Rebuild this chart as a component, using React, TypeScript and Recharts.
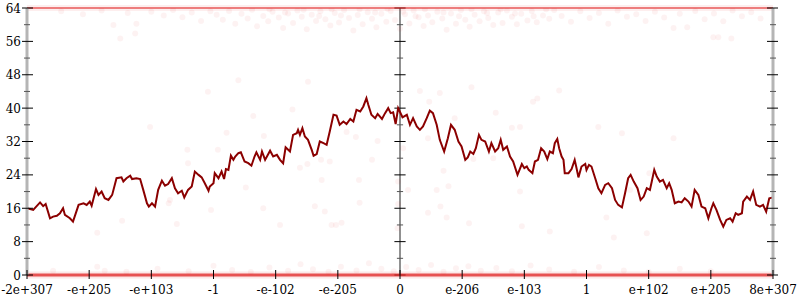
import React from "react";
import { ComposedChart, Line, Scatter, XAxis, YAxis, ReferenceLine } from "recharts";

const xLabels = ["-2e+307", "-e+205", "-e+103", "-1", "-e-102", "-e-205", "0", "e-206", "e-103", "1", "e+102", "e+205", "8e+307"];
const xTicks = xLabels.map((_, i) => i);
const yTicks = [0, 4, 8, 12, 16, 20, 24, 28, 32, 36, 40, 44, 48, 52, 56, 60, 64];

// [x (tick index), value]
const walkPoints: [number, number][] = [
  [0, 16], [0.1, 15.6], [0.21, 17.4], [0.26, 16.5], [0.3, 17], [0.37, 13.6], [0.42, 14], [0.48, 14.2], [0.53, 14.8],
  [0.58, 16], [0.61, 14.4], [0.69, 13.6], [0.74, 12.8], [0.83, 16.8], [0.91, 17.2], [0.96, 16.8], [1.01, 17.6],
  [1.04, 16.6], [1.11, 20.6], [1.15, 19.2], [1.2, 20], [1.25, 18.4], [1.31, 18], [1.37, 19.2], [1.44, 23.2],
  [1.52, 23.4], [1.55, 22.4], [1.6, 23.2], [1.66, 23.8], [1.69, 23], [1.76, 23.2], [1.82, 23], [1.87, 20.4],
  [1.93, 17.2], [1.96, 16.4], [2.01, 17.2], [2.06, 16.4], [2.11, 20.4], [2.17, 22.6], [2.22, 21.4], [2.27, 21.8],
  [2.33, 23.2], [2.38, 20.8], [2.43, 19.6], [2.49, 20.2], [2.53, 18.6], [2.59, 20.4], [2.65, 21.2], [2.7, 24.8],
  [2.76, 24], [2.81, 23.4], [2.86, 22], [2.92, 20.2], [2.94, 21.2], [3.0, 22], [3.02, 24.4], [3.08, 23.2],
  [3.13, 24.8], [3.17, 23], [3.2, 25.4], [3.24, 25.2], [3.28, 28.6], [3.32, 27.6], [3.35, 28.4], [3.4, 29.2],
  [3.44, 29.4], [3.5, 27.2], [3.56, 26.8], [3.61, 26.2], [3.66, 28.4], [3.69, 29.4], [3.75, 27.6], [3.78, 29.6],
  [3.83, 27.6], [3.91, 29.8], [3.96, 28.4], [4.02, 28.8], [4.07, 27.6], [4.12, 26.8], [4.16, 30.6], [4.23, 29.6],
  [4.28, 33.6], [4.34, 34], [4.36, 34.8], [4.39, 33.6], [4.43, 35.2], [4.47, 33.2], [4.52, 32.4], [4.58, 30],
  [4.61, 28.6], [4.66, 29], [4.71, 32], [4.77, 31.6], [4.82, 31.2], [4.87, 34.4], [4.93, 38.4], [4.98, 38.2],
  [5.03, 36], [5.09, 36.8], [5.14, 36.2], [5.2, 37.4], [5.25, 36.8], [5.3, 39.6], [5.36, 39.2], [5.41, 40.4],
  [5.46, 42.4], [5.49, 40.8], [5.54, 38.4], [5.6, 37.6], [5.64, 38.6], [5.71, 37.4], [5.76, 38.8], [5.81, 40],
  [5.85, 38.8], [5.89, 39], [5.93, 36.2], [5.97, 40], [6.04, 37.8], [6.11, 38.4], [6.16, 36], [6.21, 37.6],
  [6.27, 35.6], [6.32, 34.8], [6.37, 35.6], [6.43, 37.6], [6.48, 39.4], [6.53, 38.8], [6.59, 36], [6.64, 32.4],
  [6.71, 29.6], [6.77, 32.8], [6.82, 36], [6.88, 34.8], [6.94, 32], [6.99, 30.8], [7.05, 27.6], [7.09, 28.2],
  [7.13, 29.6], [7.18, 29], [7.22, 30.4], [7.27, 33.6], [7.31, 32.4], [7.37, 32], [7.43, 29.6], [7.47, 31.6],
  [7.53, 29.6], [7.58, 30.4], [7.62, 32.4], [7.66, 30], [7.72, 30.8], [7.77, 28.4], [7.82, 27.2], [7.89, 24],
  [7.96, 26.6], [8.0, 25.6], [8.04, 26], [8.07, 25.2], [8.13, 24.4], [8.17, 27.2], [8.22, 27.6], [8.27, 30.4],
  [8.32, 29.6], [8.37, 27.8], [8.41, 29.6], [8.46, 29.2], [8.49, 31.6], [8.53, 32.6], [8.56, 30.4], [8.6, 28.4],
  [8.63, 27.6], [8.65, 24.4], [8.71, 24.4], [8.76, 25.4], [8.81, 27.6], [8.84, 25.6], [8.87, 23.4], [8.92, 26],
  [8.98, 26.6], [9.0, 25.2], [9.04, 26.4], [9.08, 26], [9.14, 23.2], [9.19, 20.8], [9.24, 19.6], [9.3, 21.6],
  [9.35, 22], [9.41, 20.8], [9.46, 18], [9.51, 16.8], [9.57, 16.2], [9.62, 19.6], [9.67, 23.2], [9.71, 24],
  [9.76, 22.4], [9.82, 20.8], [9.87, 18], [9.92, 18.8], [9.97, 20.8], [10.02, 20.4], [10.05, 22.4], [10.09, 25.2],
  [10.13, 23.6], [10.18, 22.4], [10.23, 22.8], [10.29, 20.8], [10.33, 22], [10.37, 20.4], [10.42, 17.2],
  [10.48, 17.6], [10.53, 17.4], [10.58, 18.4], [10.64, 17.6], [10.69, 16.4], [10.74, 20.4], [10.8, 19.2],
  [10.85, 16.4], [10.91, 16], [10.96, 13.6], [11.01, 16], [11.04, 17.2], [11.09, 15.6], [11.15, 13.2], [11.2, 11.6],
  [11.25, 13.2], [11.31, 13.6], [11.35, 12.8], [11.4, 14.8], [11.44, 14.4], [11.5, 14.8], [11.52, 17.6],
  [11.58, 18.8], [11.63, 18], [11.68, 20], [11.73, 16.8], [11.79, 16.4], [11.84, 16.8], [11.89, 15.2],
  [11.94, 18.4], [12, 18.6],
];

const topDots: [number, number][] = [
  [0.55, 63.2], [0.9, 62.5], [1.2, 63.4], [1.39, 59.9], [1.5, 56.7], [1.62, 62.8], [1.74, 57.9], [1.76, 60.2],
  [2.0, 63.1], [2.2, 62.2], [2.35, 63.5], [2.5, 61.8], [2.65, 62.9], [2.8, 60.9], [2.95, 63.2],
  [3.05, 62.4], [3.15, 61.2], [3.25, 63.3], [3.35, 60.2], [3.45, 62.6], [3.55, 61.5], [3.62, 63.6], [3.7, 59.6],
  [3.8, 62.1], [3.88, 60.8], [3.95, 63.1], [4.05, 61.7], [4.12, 59.2], [4.2, 62.7], [4.28, 60.4], [4.35, 63.4],
  [4.42, 61.9], [4.5, 58.9], [4.58, 62.4], [4.65, 60.9], [4.72, 63.2], [4.8, 61.3], [4.88, 59.8], [4.95, 62.8],
  [5.02, 60.5], [5.1, 63.5], [5.18, 61.6], [5.25, 58.6], [5.32, 62.3], [5.4, 60.1], [5.48, 63.0], [5.55, 61.4],
  [5.62, 59.4], [5.7, 62.6], [5.78, 60.7], [5.85, 63.3], [5.92, 61.1], [6.0, 59.0], [6.08, 62.5], [6.15, 60.3],
  [6.22, 63.4], [6.3, 61.8], [6.38, 59.7], [6.45, 62.2], [6.52, 60.6], [6.6, 63.1], [6.68, 61.5], [6.75, 58.8],
  [6.82, 62.7], [6.9, 60.2], [6.98, 63.5], [7.05, 61.2], [7.12, 59.5], [7.2, 62.4], [7.28, 60.8], [7.35, 63.2],
  [7.42, 61.6], [7.5, 59.9], [7.58, 62.9], [7.65, 60.4], [7.72, 63.4], [7.8, 61.9], [7.88, 60.1], [7.95, 62.6],
  [8.05, 61.0], [8.12, 63.3], [8.2, 60.6], [8.3, 62.2], [8.4, 61.4], [8.48, 63.5],
  [8.6, 62.1], [8.75, 60.7], [8.9, 63.2], [9.05, 61.6], [9.2, 62.8], [9.35, 60.2], [9.5, 63.4], [9.65, 61.9],
  [9.8, 62.5], [9.95, 60.9], [10.1, 63.1], [10.25, 61.7], [10.4, 59.2], [10.5, 62.6], [10.62, 59.4], [10.75, 63.3],
  [10.9, 61.3], [11.04, 57], [11.05, 62.7], [11.12, 57], [11.2, 60.8], [11.33, 56.7], [11.35, 63.4], [11.5, 62.0],
  [11.65, 63.0], [11.8, 61.5],
  [3.9, 63.7], [4.15, 62.9], [4.45, 63.6], [4.7, 62.1], [4.9, 63.7], [5.05, 62.2], [5.35, 63.7], [5.6, 62.9],
  [5.8, 63.8], [6.05, 63.1], [6.25, 62.0], [6.4, 63.7], [6.7, 62.9], [6.95, 62.0], [7.15, 63.7], [7.4, 62.8],
  [7.62, 63.7], [7.85, 62.7], [8.15, 62.0], [8.35, 63.7],
];

const midDots: [number, number][] = [
  [2.91, 43.9], [3.64, 38.1], [1.98, 35.5], [3.21, 34.1], [3.81, 33.3], [2.58, 30], [3.07, 30], [2.59, 26.8],
  [3.52, 21], [2.3, 18], [2.28, 17.2], [2.96, 15.6], [3.8, 16], [1.53, 13], [2.41, 12.2], [4.07, 12],
  [4.52, 46.3], [7.15, 45], [6.64, 43.6], [6.32, 44.1], [6.47, 41.5], [4.27, 39.7], [8.14, 41.5], [7.54, 38.9],
  [6.88, 37.6], [7.8, 35.3], [7.93, 35.5], [5.14, 34.3], [5.29, 33.1], [5.64, 32.1], [6.45, 32.8], [4.73, 27.6],
  [4.87, 27.2], [5.55, 27.6], [6.05, 30.4], [7.18, 27.8], [4.39, 25.7], [4.51, 26.6], [6.7, 25], [4.74, 22.8],
  [5.34, 22.8], [6.13, 20.4], [6.59, 20.4], [6.78, 21.3], [7.93, 20], [9.19, 35.5], [9.57, 34], [10.4, 32.8],
  [10.01, 24.4], [9.7, 20.4], [9.32, 13.8], [8.41, 10.4], [9.97, 10], [9.44, 9], [1.13, 10.1], [3.4, 46.7],
  [5.35, 17.3], [4.63, 16.5], [4.79, 15.2], [4.9, 12], [4.97, 12], [5.06, 12.5], [5.96, 11.2], [8.56, 44.2],
  [8.21, 42.3], [7.5, 28], [5.97, 22.4], [6.65, 16.4], [5.97, 17], [6.45, 14.9], [6.75, 13.8], [7.11, 12.4],
  [7.96, 11.7],
];

const bottomDots: [number, number][] = [
  [0.42, 1], [1.13, 2], [1.25, 1], [1.6, 0.8], [2.1, 1.5], [2.6, 0.9], [3.0, 2.2], [3.3, 1.2], [3.6, 0.7],
  [3.9, 1.8], [4.2, 1.0], [4.4, 2.6], [4.6, 1.4], [4.85, 0.8], [5.05, 2.0], [5.3, 1.1], [5.5, 2.8], [5.7, 1.5],
  [5.9, 0.9], [6.1, 1.9], [6.3, 1.2], [6.5, 2.4], [6.7, 0.8], [6.9, 1.6], [7.1, 2.1], [7.3, 1.0], [7.55, 1.7],
  [7.8, 0.9], [8.1, 2.3], [8.4, 1.3], [8.8, 0.8], [9.2, 1.9], [9.6, 1.1], [10.0, 0.7], [10.5, 1.5], [11.0, 0.9],
];

const toRows = (pts: [number, number][]) => pts.map(([x, y]) => ({ x, y }));

const font = "'DejaVu Serif', 'Liberation Serif', serif";

function Dot(props: any) {
  return <circle cx={props.cx} cy={props.cy} r={3} fill="#e00000" fillOpacity={0.05} />;
}

function LeftTick({ x, y, payload }: any) {
  const major = payload.value % 8 === 0;
  return (
    <g>
      <line x1={x - (major ? 5 : 3)} x2={x + (major ? 6 : 3)} y1={y} y2={y} stroke={major ? "#000" : "#555"} />
      {major && (
        <text x={x - 6} y={y} dy={4.5} textAnchor="end" fill="#000" style={{ fontFamily: font, fontSize: 12 }}>
          {payload.value}
        </text>
      )}
    </g>
  );
}

function RightTick({ x, y, payload }: any) {
  const major = payload.value % 8 === 0;
  return <line x1={x - (major ? 6 : 3)} x2={x + (major ? 5 : 3)} y1={y} y2={y} stroke={major ? "#000" : "#555"} />;
}

function BottomTick({ x, y, payload }: any) {
  return (
    <g>
      <line x1={x} x2={x} y1={y - 5} y2={y + 4} stroke="#000" />
      <text x={x} y={y + 19} textAnchor="middle" fill="#000" style={{ fontFamily: font, fontSize: 12 }}>
        {xLabels[payload.value]}
      </text>
    </g>
  );
}

export default function App() {
  return (
    <div style={{ position: "absolute", left: 0, top: 0, background: "#fff" }}>
      <ComposedChart width={800} height={300} margin={{ top: 8, right: 0, bottom: 0, left: 0 }}>
        <XAxis
          type="number"
          dataKey="x"
          domain={[0, 12]}
          ticks={xTicks}
          interval={0}
          allowDataOverflow
          height={25}
          axisLine={false}
          tickLine={false}
          tickSize={0}
          tickMargin={0}
          tick={<BottomTick />}
        />
        <YAxis
          yAxisId="left"
          type="number"
          domain={[0, 64]}
          ticks={yTicks}
          interval={0}
          allowDataOverflow
          width={27}
          axisLine={{ stroke: "#b5b5b5", strokeWidth: 3 }}
          tickLine={false}
          tickSize={0}
          tickMargin={0}
          tick={<LeftTick />}
        />
        <YAxis
          yAxisId="right"
          orientation="right"
          type="number"
          domain={[0, 64]}
          ticks={yTicks}
          interval={0}
          allowDataOverflow
          width={27}
          axisLine={{ stroke: "#b5b5b5", strokeWidth: 3 }}
          tickLine={false}
          tickSize={0}
          tickMargin={0}
          tick={<RightTick />}
        />
        <ReferenceLine yAxisId="left" x={6} stroke="#222" strokeWidth={1} />
        {yTicks.map((v) => (
          <ReferenceLine
            key={v}
            yAxisId="left"
            segment={v % 8 === 0 ? [{ x: 5.91, y: v }, { x: 6.09, y: v }] : [{ x: 5.95, y: v }, { x: 6.05, y: v }]}
            stroke={v % 8 === 0 ? "#000" : "#555"}
          />
        ))}
        <Scatter yAxisId="left" data={toRows(topDots)} dataKey="y" shape={<Dot />} isAnimationActive={false} />
        <Scatter yAxisId="left" data={toRows(midDots)} dataKey="y" shape={<Dot />} isAnimationActive={false} />
        <Scatter yAxisId="left" data={toRows(bottomDots)} dataKey="y" shape={<Dot />} isAnimationActive={false} />
        <ReferenceLine yAxisId="left" y={64} stroke="#e02020" strokeOpacity={0.08} strokeWidth={6} />
        <ReferenceLine yAxisId="left" y={64} stroke="#e02020" strokeOpacity={0.55} strokeWidth={2} />
        <ReferenceLine yAxisId="left" y={0} stroke="#e02020" strokeOpacity={0.1} strokeWidth={7} />
        <ReferenceLine yAxisId="left" y={0} stroke="#e02020" strokeOpacity={0.75} strokeWidth={3} />
        <Line
          yAxisId="left"
          data={toRows(walkPoints)}
          dataKey="y"
          type="linear"
          stroke="#8b0000"
          strokeWidth={2}
          dot={false}
          isAnimationActive={false}
        />
      </ComposedChart>
    </div>
  );
}
